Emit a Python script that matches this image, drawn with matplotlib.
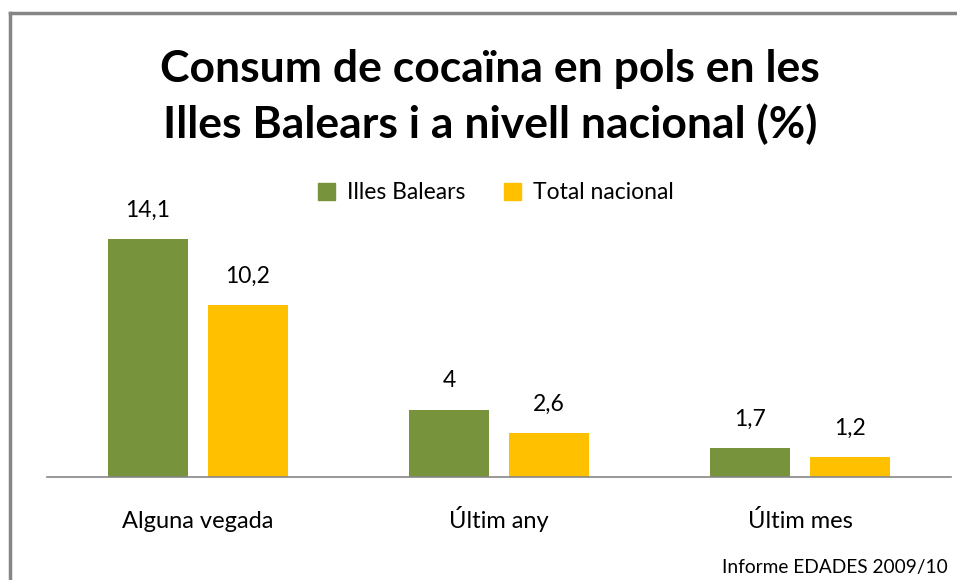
import numpy as np
import matplotlib
matplotlib.use('Agg')
from matplotlib import pyplot as plt
from matplotlib.lines import Line2D

categories = ['Alguna vegada', 'Últim any', 'Últim mes']
series_names = ['Illes Balears', 'Total nacional']
balears = [14.1, 4, 1.7]
nacional = [10.2, 2.6, 1.2]
colors = ['#77933C', '#FFC000']

W, H = 957, 580
plt.rcParams['font.family'] = ['Lato', 'DejaVu Sans']

fig = plt.figure(figsize=(W / 100, H / 100), dpi=100)

# plot area in pixel units
left, right, bottom, top = 47, 951, 477, 207
ax = fig.add_axes([left / W, 1 - bottom / H, (right - left) / W, (bottom - top) / H])

x = np.arange(len(categories))
bw = 80 / 301
gap = 20 / 301
for i, (vals, c) in enumerate(zip([balears, nacional], colors)):
    off = (i - 0.5) * (bw + gap)
    bars = ax.bar(x + off, vals, width=bw, color=c, label=series_names[i])
    for b, v in zip(bars, vals):
        ax.annotate(('%g' % v).replace('.', ','),
                    (b.get_x() + b.get_width() / 2, v),
                    xytext=(0, 13), textcoords='offset points',
                    ha='center', va='bottom', fontsize=16.5)

ax.set_xlim(-0.5, len(categories) - 0.5)
ax.set_ylim(0, 16)
ax.set_yticks([])
ax.set_xticks(x)
ax.set_xticklabels(categories, fontsize=17)
for lab in ax.get_xticklabels():
    lab.set_va('baseline')
ax.tick_params(axis='x', length=0, pad=37)
for s in ['top', 'right', 'left']:
    ax.spines[s].set_visible(False)
ax.spines['bottom'].set_color('#868686')
ax.spines['bottom'].set_linewidth(1.2)

fig.text(490 / W, 1 - 97 / H,
         'Consum de cocaïna en pols en les\nIlles Balears i a nivell nacional (%)',
         ha='center', va='center', fontsize=32, fontweight='bold',
         linespacing=1.4)

handles = [plt.Rectangle((0, 0), 1, 1, color=c) for c in colors]
fig.legend(handles, series_names, loc='center', bbox_to_anchor=(496 / W, 1 - 193 / H),
           ncol=2, frameon=False, fontsize=16.5, handlelength=0.75, handleheight=0.75,
           handletextpad=0.5, columnspacing=1.7)

fig.text(948 / W, 1 - 567 / H, 'Informe EDADES 2009/10', ha='right', va='center',
         fontsize=13.8)

# chart border (top and left edges visible)
fig.add_artist(Line2D([10 / W, 1], [1 - 13 / H, 1 - 13 / H], color='#868686', lw=2.5,
                      transform=fig.transFigure))
fig.add_artist(Line2D([10 / W, 10 / W], [1 - 13 / H, 0], color='#868686', lw=2.5,
                      transform=fig.transFigure))

fig.savefig('out.png', dpi=100)
